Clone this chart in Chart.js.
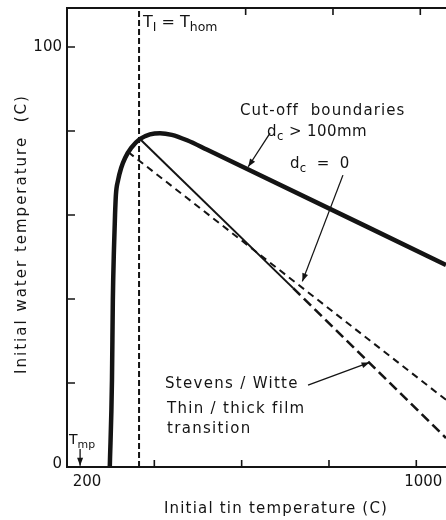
<!DOCTYPE html>
<html>
<head>
<meta charset="utf-8">
<script src="https://cdn.jsdelivr.net/npm/chart.js@4.4.1/dist/chart.umd.min.js"></script>
<style>
  html, body { margin: 0; padding: 0; background: #fff; overflow: hidden; }
  #wrap { width: 446px; height: 520px; }
</style>
</head>
<body>
<div id="wrap"><canvas id="chart" width="446" height="520"></canvas></div>
<script>
// ================= DATA =================
// cut-off boundary for d_c > 100mm (thick curve)
const cutoffX = [298, 303, 305, 307.5, 310, 312, 317, 324, 333, 347, 367, 390, 413, 440, 475, 520, 1068];
const cutoffY = [0, 20.7, 39.8, 51.7, 60.0, 64.8, 68.3, 71.2, 73.6, 76.0, 78.1, 79.2, 79.5, 79.1, 77.8, 75.6, 48.1];

// cut-off boundary for d_c = 0 (upper dashed)
const zeroX = [340, 1068];
const zeroY = [75.0, 16.0];

// Stevens / Witte thin/thick film transition (solid, then dashed)
const filmX = [367, 718];
const filmY = [78.1, 42.6];
const filmDashX = [718, 1068];
const filmDashY = [42.6, 6.9];

// T_I = T_hom vertical line
const homX = [365, 365];
const homY = [0, 109.3];

// axes
const xMin = 200, xMax = 1068;
const yMin = 0, yMax = 109.3;
const xTickValues = [200, 400, 600, 800, 1000];
const xTickLabels = ["200", "", "", "", "1000"];
const xTopTickValues = [600, 800, 1000];
const yTickValues = [0, 20, 40, 60, 80, 100];
const yTickLabels = ["0", "", "", "", "", "100"];

// arrows [fromX, fromY, toX, toY] in data units
const arrows = [
  [665, 79.5, 615, 71.5],   // d_c > 100mm
  [832, 69.5, 739, 44.2],   // d_c = 0
  [752, 19.5, 893, 24.9],   // Stevens / Witte
  [230, 4.3, 230, 0.3]      // T_mp
];

const INK = "#141414";
const FONT = '"DejaVu Sans", sans-serif';

function pts(xs, ys) {
  return xs.map((x, i) => ({ x: x, y: ys[i] }));
}

// ================= DRAW HELPERS =================
function drawParts(ctx, parts, x, y, size, spacing) {
  let cx = x;
  parts.forEach(p => {
    const sub = p[1];
    const s = sub ? size * 0.78 : size;
    ctx.font = s + "px " + FONT;
    ctx.letterSpacing = (spacing || 0) + "px";
    ctx.fillText(p[0], cx, sub ? y + size * 0.25 : y);
    cx += ctx.measureText(p[0]).width;
  });
}

function arrow(ctx, x1, y1, x2, y2) {
  ctx.beginPath();
  ctx.moveTo(x1, y1);
  ctx.lineTo(x2, y2);
  ctx.stroke();
  const a = Math.atan2(y2 - y1, x2 - x1);
  const len = 8, w = 3;
  ctx.beginPath();
  ctx.moveTo(x2, y2);
  ctx.lineTo(x2 - len * Math.cos(a) + w * Math.sin(a), y2 - len * Math.sin(a) - w * Math.cos(a));
  ctx.lineTo(x2 - len * Math.cos(a) - w * Math.sin(a), y2 - len * Math.sin(a) + w * Math.cos(a));
  ctx.closePath();
  ctx.fill();
}

const inkPlugin = {
  id: "ink",
  afterDraw(chart) {
    const ctx = chart.ctx;
    const xs = chart.scales.x, ys = chart.scales.y;
    const area = chart.chartArea;
    ctx.save();
    ctx.strokeStyle = INK;
    ctx.fillStyle = INK;
    ctx.lineWidth = 1.6;

    // inward tick marks
    ctx.beginPath();
    xTickValues.forEach(v => {
      if (v === xMin) return;
      const px = xs.getPixelForValue(v);
      ctx.moveTo(px, area.bottom);
      ctx.lineTo(px, area.bottom - 7);
    });
    xTopTickValues.forEach(v => {
      const px = xs.getPixelForValue(v) + 4;
      ctx.moveTo(px, area.top);
      ctx.lineTo(px, area.top + 7);
    });
    yTickValues.forEach(v => {
      if (v === yMin) return;
      const py = ys.getPixelForValue(v);
      ctx.moveTo(area.left, py);
      ctx.lineTo(area.left + 8, py);
    });
    ctx.stroke();

    // tick labels
    ctx.textBaseline = "middle";
    ctx.font = "15px " + FONT;
    ctx.textAlign = "right";
    yTickValues.forEach((v, i) => {
      if (!yTickLabels[i]) return;
      ctx.fillText(yTickLabels[i], area.left - 5, ys.getPixelForValue(v) - (v === 0 ? 3 : 0));
    });
    ctx.textAlign = "center";
    xTickValues.forEach((v, i) => {
      if (!xTickLabels[i]) return;
      ctx.fillText(xTickLabels[i], xs.getPixelForValue(v) + (v === xMin ? 20 : 7), area.bottom + 15);
    });

    // axis titles
    ctx.letterSpacing = "1.2px";
    ctx.fillText("Initial tin temperature (C)", 276, 509);
    ctx.save();
    ctx.translate(22, 234);
    ctx.rotate(-Math.PI / 2);
    ctx.letterSpacing = "2px";
    ctx.fillText("Initial water temperature  (C)", 0, 0);
    ctx.restore();
    ctx.letterSpacing = "0px";

    // annotations
    ctx.textAlign = "left";
    ctx.textBaseline = "alphabetic";
    drawParts(ctx, [["T", false], ["I", true], [" = T", false], ["hom", true]], 143, 27, 16, 0);
    drawParts(ctx, [["Cut-off  boundaries", false]], 240, 115, 15, 1.1);
    drawParts(ctx, [["d", false], ["c", true], [" > 100mm", false]], 267, 136, 15, 0.4);
    drawParts(ctx, [["d", false], ["c", true], ["  =  0", false]], 290, 168, 15, 0.3);
    drawParts(ctx, [["Stevens / Witte", false]], 165, 388, 15, 1.3);
    drawParts(ctx, [["Thin / thick film", false]], 167, 413, 15, 1.3);
    drawParts(ctx, [["transition", false]], 167, 433, 15, 1.3);
    drawParts(ctx, [["T", false], ["mp", true]], 69, 444, 14, 0);

    ctx.lineWidth = 1.3;
    arrows.forEach(a => {
      arrow(ctx, xs.getPixelForValue(a[0]), ys.getPixelForValue(a[1]),
        xs.getPixelForValue(a[2]), ys.getPixelForValue(a[3]));
    });
    ctx.restore();
  }
};

// ================= CHART =================
const lineBase = { pointRadius: 0, borderColor: INK, fill: false };

new Chart(document.getElementById("chart").getContext("2d"), {
  type: "line",
  data: {
    datasets: [
      Object.assign({}, lineBase, {
        label: "Cut-off d_c > 100mm",
        data: pts(cutoffX, cutoffY),
        borderWidth: 4.5,
        cubicInterpolationMode: "monotone"
      }),
      Object.assign({}, lineBase, {
        label: "Cut-off d_c = 0",
        data: pts(zeroX, zeroY),
        borderWidth: 2,
        borderDash: [7, 5]
      }),
      Object.assign({}, lineBase, {
        label: "Stevens / Witte",
        data: pts(filmX, filmY),
        borderWidth: 2
      }),
      Object.assign({}, lineBase, {
        label: "Stevens / Witte (extrapolated)",
        data: pts(filmDashX, filmDashY),
        borderWidth: 2.6,
        borderDash: [10, 5]
      }),
      Object.assign({}, lineBase, {
        label: "T_I = T_hom",
        data: pts(homX, homY),
        borderWidth: 2,
        borderDash: [6, 3]
      })
    ]
  },
  options: {
    responsive: false,
    animation: false,
    layout: { padding: { left: 67, top: 8, right: 0, bottom: 53 } },
    plugins: {
      legend: { display: false },
      tooltip: { enabled: false }
    },
    scales: {
      x: {
        type: "linear",
        min: xMin,
        max: xMax,
        grid: { display: false, drawTicks: false },
        ticks: { display: false },
        border: { display: true, color: INK, width: 2 }
      },
      xTop: {
        type: "linear",
        position: "top",
        min: xMin,
        max: xMax,
        grid: { display: false, drawTicks: false },
        ticks: { display: false },
        border: { display: true, color: INK, width: 2 }
      },
      y: {
        type: "linear",
        min: yMin,
        max: yMax,
        grid: { display: false, drawTicks: false },
        ticks: { display: false },
        border: { display: true, color: INK, width: 2 }
      }
    }
  },
  plugins: [inkPlugin]
});
</script>
</body>
</html>
